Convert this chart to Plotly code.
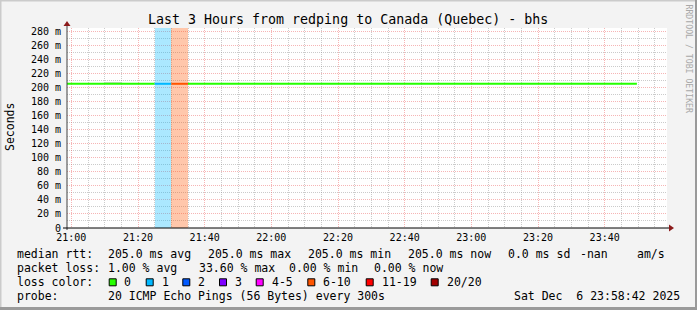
import plotly.graph_objects as go
import pandas as pd

# ---------------- data ----------------
step_starts = pd.date_range("2025-12-06 20:55:00", "2025-12-06 23:45:00", freq="5min")
last_end = pd.Timestamp("2025-12-06 23:49:40")
rtt_ms = [205.0, 205.0, 205.0, 205.0, 205.0, 205.0, 205.0, 205.0, 205.0, 205.0,
          205.0, 205.0, 205.0, 205.0, 205.0, 205.0, 205.0, 205.0, 205.0, 205.0,
          205.0, 205.0, 205.0, 205.0, 205.0, 205.0, 205.0, 205.0, 205.0, 205.0,
          205.0, 205.0, 205.0, 205.0, 205.0]
loss_pct = [0.0, 0.0, 0.0, 0.0, 0.0, 0.0, 2.4, 33.6, 0.0, 0.0,
            0.0, 0.0, 0.0, 0.0, 0.0, 0.0, 0.0, 0.0, 0.0, 0.0,
            0.0, 0.0, 0.0, 0.0, 0.0, 0.0, 0.0, 0.0, 0.0, 0.0,
            0.0, 0.0, 0.0, 0.0, 0.0]
smoke_hi = [205.0, 205.0, 205.0, 208.0, 205.0, 205.0, 205.0, 205.0, 205.0, 205.0,
            205.0, 205.0, 205.0, 205.0, 205.0, 205.0, 205.0, 205.0, 205.0, 205.0,
            205.0, 205.0, 205.0, 205.0, 205.0, 205.0, 205.0, 205.0, 205.0, 205.0,
            205.0, 205.0, 205.0, 205.0, 205.0]
pings = 20
loss_labels = ["0", "1", "2", "3", "4-5", "6-10", "11-19", "20/20"]
loss_limits = [0, 1, 2, 3, 5, 10, 19, 20]
loss_colors = ["#26ff00", "#00b8ff", "#0059ff", "#7e00ff", "#ff00ff", "#ff5500", "#ff0000", "#a10000"]
y_tick_step = 20
y_minor_step = 10
y_tick_suffix = " m"
x_start = "2025-12-06 20:58:42"
x_end = "2025-12-06 23:58:42"
y_max = 284.3

title = "Last 3 Hours from redping to Canada (Quebec) - bhs"
legend_rows = [
    [("median rtt:", 16), ("205.0 ms avg", 107.3), ("205.0 ms max", 207.3), ("205.0 ms min", 307.3),
     ("205.0 ms now", 407.3), ("0.0 ms sd", 507.3), ("-nan", 579), ("am/s", 636)],
    [("packet loss:", 16), ("1.00 % avg", 107.3), ("33.60 % max", 198), ("0.00 % min", 288),
     ("0.00 % now", 372.7)],
    [("loss color:", 16)],
    [("probe:", 16), ("20 ICMP Echo Pings (56 Bytes) every 300s", 107.3),
     ("Sat Dec\u00a0\u00a06 23:58:42 2025", 513.3)],
]
legend_row_y = [254.3, 268.3, 282.3, 296.3]
swatch_x = [108.7, 145.7, 182.3, 219, 255.7, 307.3, 365.7, 430.7]
swatch_label_x = [123.3, 160.7, 197.3, 234, 270.7, 322.3, 380.7, 445.7]

# ---------------- geometry helpers ----------------
L, T, W, H = 67, 28, 600, 200
FIG_W, FIG_H = 697, 310
MONO = "DejaVu Sans Mono"


def px(x):
    return (x - L) / W


def py(y):
    return (T + H - y) / H


def bucket(pct):
    lost = pct / 100.0 * pings
    for i, lim in enumerate(loss_limits):
        if lost <= lim:
            return i
    return len(loss_limits) - 1


def rgba(hexc, a):
    h = hexc.lstrip("#")
    return f"rgba({int(h[0:2],16)},{int(h[2:4],16)},{int(h[4:6],16)},{a})"


ends = list(step_starts[1:]) + [last_end]
fig = go.Figure()

# loss background bands
for s, e, lp in zip(step_starts, ends, loss_pct):
    b = bucket(lp)
    if b > 0:
        fig.add_trace(go.Bar(x=[s], y=[y_max], base=0, offset=0,
                             width=(e - s).total_seconds() * 1000,
                             marker=dict(color=rgba(loss_colors[b], 0.33), line=dict(width=0)),
                             hoverinfo="skip"))

# smoke
for s, e, r, hi in zip(step_starts, ends, rtt_ms, smoke_hi):
    if hi > r:
        fig.add_trace(go.Bar(x=[s], y=[hi - r], base=r, offset=0,
                             width=(e - s).total_seconds() * 1000,
                             marker=dict(color="#d6d6d6", line=dict(width=0)),
                             hoverinfo="skip"))

# median line, coloured by loss
segs = []
for s, e, r, lp in zip(step_starts, ends, rtt_ms, loss_pct):
    b = bucket(lp)
    if segs and segs[-1]["b"] == b:
        segs[-1]["x"] += [s, e]
        segs[-1]["y"] += [r, r]
    else:
        segs.append({"b": b, "x": [s, e], "y": [r, r]})
for sg in segs:
    fig.add_trace(go.Scatter(x=sg["x"], y=sg["y"], mode="lines",
                             line=dict(color=loss_colors[sg["b"]], width=2),
                             hoverinfo="skip"))

MAJ = "rgba(235,90,90,0.45)"
MIN = "rgba(140,140,140,0.45)"
fig.update_layout(
    width=FIG_W, height=FIG_H,
    margin=dict(l=L, r=FIG_W - L - W, t=T, b=FIG_H - T - H, pad=0),
    paper_bgcolor="#f3f3f3", plot_bgcolor="#ffffff",
    showlegend=False, barmode="overlay", bargap=0,
    font=dict(family=MONO, color="#000"),
    xaxis=dict(type="date", range=[x_start, x_end], tickformat="%H:%M",
               tick0="2025-12-06 21:00:00", dtick=20 * 60 * 1000,
               showgrid=True, gridcolor=MAJ, griddash="1px,1px", gridwidth=1,
               minor=dict(tick0="2025-12-06 21:00:00", dtick=5 * 60 * 1000, showgrid=True,
                          gridcolor=MIN, griddash="1px,1px", gridwidth=1),
               zeroline=False, showline=False, ticks="",
               tickfont=dict(family=MONO, size=10, color="#000"), ticklabelstandoff=2),
    yaxis=dict(range=[0, y_max], tickmode="linear", tick0=0, dtick=y_tick_step,
               ticksuffix=y_tick_suffix, labelalias={"0" + y_tick_suffix: "0"},
               showgrid=True, gridcolor=MAJ, griddash="1px,1px", gridwidth=1,
               minor=dict(tick0=0, dtick=y_minor_step, showgrid=True,
                          gridcolor=MIN, griddash="1px,1px", gridwidth=1),
               zeroline=False, showline=False, ticks="",
               tickfont=dict(family=MONO, size=10, color="#000"), ticklabelstandoff=5),
)

shapes = []
# frame bevel
shapes.append(dict(type="line", xref="paper", yref="paper", x0=px(0), x1=px(FIG_W), y0=py(0.5), y1=py(0.5),
                   line=dict(color="#cbcbcb", width=2)))
shapes.append(dict(type="line", xref="paper", yref="paper", x0=px(0.5), x1=px(0.5), y0=py(0), y1=py(FIG_H),
                   line=dict(color="#cbcbcb", width=2)))
shapes.append(dict(type="line", xref="paper", yref="paper", x0=px(FIG_W - 1), x1=px(FIG_W - 1), y0=py(0), y1=py(FIG_H),
                   line=dict(color="#9a9a9a", width=2)))
shapes.append(dict(type="line", xref="paper", yref="paper", x0=px(0), x1=px(FIG_W), y0=py(FIG_H - 1.5), y1=py(FIG_H - 1.5),
                   line=dict(color="#9a9a9a", width=3)))
# axes
shapes.append(dict(type="line", xref="paper", yref="paper", x0=px(L), x1=px(L), y0=py(T + H + 2), y1=py(T - 4),
                   line=dict(color="#404040", width=1)))
shapes.append(dict(type="line", xref="paper", yref="paper", x0=px(L - 4), x1=px(L + W + 4), y0=0, y1=0,
                   line=dict(color="#000000", width=1)))
ax_x, ax_y = L, T - 7
shapes.append(dict(type="path", xref="paper", yref="paper",
                   path=f"M {px(ax_x)},{py(ax_y)} L {px(ax_x - 3.5)},{py(ax_y + 5)} L {px(ax_x + 3.5)},{py(ax_y + 5)} Z",
                   fillcolor="#8b1a1a", line=dict(width=0)))
ar_x, ar_y = L + W + 7, T + H
shapes.append(dict(type="path", xref="paper", yref="paper",
                   path=f"M {px(ar_x)},{py(ar_y)} L {px(ar_x - 5)},{py(ar_y - 3.5)} L {px(ar_x - 5)},{py(ar_y + 3.5)} Z",
                   fillcolor="#8b1a1a", line=dict(width=0)))
# legend swatches
for sx, col in zip(swatch_x, loss_colors):
    shapes.append(dict(type="rect", xref="paper", yref="paper",
                       x0=px(sx + 0.5), x1=px(sx + 7.5), y0=py(legend_row_y[2] + 3.5), y1=py(legend_row_y[2] - 3.5),
                       fillcolor=col, line=dict(color="#000000", width=1)))
fig.update_layout(shapes=shapes)

ann = []
ann.append(dict(text=title, x=px(348), y=py(19.5), xref="paper", yref="paper", showarrow=False,
                xanchor="center", yanchor="middle", font=dict(family=MONO, size=13.3, color="#000")))
ann.append(dict(text="Seconds", x=px(10), y=py(127), xref="paper", yref="paper", showarrow=False,
                textangle=-90, xanchor="center", yanchor="middle", font=dict(family=MONO, size=11.5, color="#000")))
ann.append(dict(text="RRDTOOL / TOBI OETIKER", x=px(688.5), y=py(59), xref="paper", yref="paper", showarrow=False,
                textangle=90, xanchor="center", yanchor="middle", font=dict(family=MONO, size=8.2, color="#a8a8a8")))
for row, yy in zip(legend_rows, legend_row_y):
    for txt, xx in row:
        ann.append(dict(text=txt, x=px(xx), y=py(yy), xref="paper", yref="paper", showarrow=False,
                        xanchor="left", yanchor="middle", borderpad=0,
                        font=dict(family=MONO, size=11.5, color="#000")))
for lab, xx in zip(loss_labels, swatch_label_x):
    ann.append(dict(text=lab, x=px(xx), y=py(legend_row_y[2]), xref="paper", yref="paper", showarrow=False,
                    xanchor="left", yanchor="middle", borderpad=0,
                    font=dict(family=MONO, size=11.5, color="#000")))
fig.update_layout(annotations=ann)

fig.write_html("out.html")
